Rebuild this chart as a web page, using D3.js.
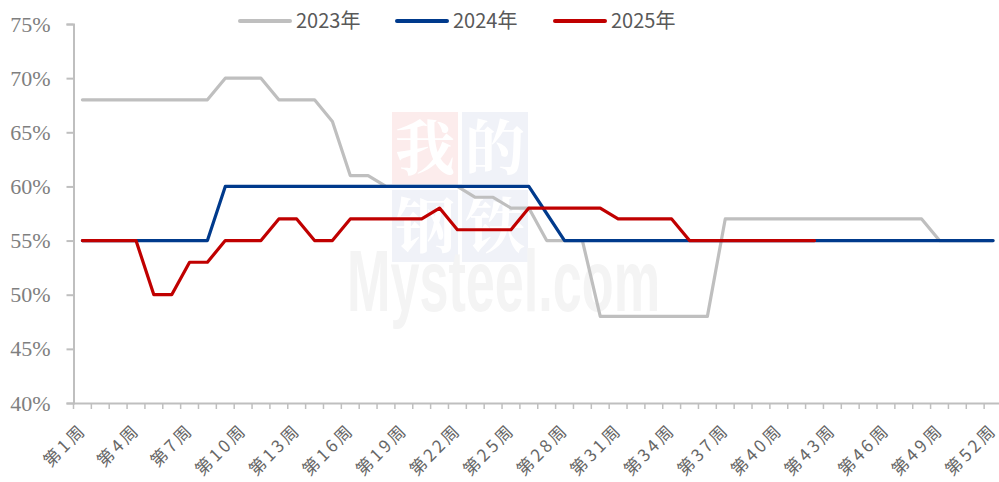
<!DOCTYPE html>
<html>
<head>
<meta charset="utf-8">
<script src="https://cdn.jsdelivr.net/npm/d3@7"></script>
<style>
    body{margin:0;background:#fff;}
    svg{display:block;}
</style>
</head>
<body>
<div id="chart"></div>
<script>
var weeks = d3.range(1, 53).map(function(w){return '第' + w + '周'});
var tick_labels = weeks.filter(function(d, i){return i % 3 == 0});
var y_ticks = [40, 45, 50, 55, 60, 65, 70, 75];
var series_names = ['2023年', '2024年', '2025年'];
var colors = ['#bfbfbf', '#003a8c', '#c00000'];

var values_2023 = [68, 68, 68, 68, 68, 68, 68, 68, 70, 70, 70, 68, 68, 68, 66, 61, 61,
    60, 60, 60, 60, 60, 59, 59, 58, 58, 55, 55, 55, 48, 48, 48, 48, 48, 48, 48,
    57, 57, 57, 57, 57, 57, 57, 57, 57, 57, 57, 57, 55, 55, 55, 55];
var values_2024 = [55, 55, 55, 55, 55, 55, 55, 55, 60, 60, 60, 60, 60, 60, 60, 60, 60,
    60, 60, 60, 60, 60, 60, 60, 60, 60, 57.5, 55, 55, 55, 55, 55, 55, 55, 55, 55,
    55, 55, 55, 55, 55, 55, 55, 55, 55, 55, 55, 55, 55, 55, 55, 55];
var values_2025 = [55, 55, 55, 55, 50, 50, 53, 53, 55, 55, 55, 57, 57, 55, 55, 57, 57,
    57, 57, 57, 58, 56, 56, 56, 56, 58, 58, 58, 58, 58, 57, 57, 57, 57, 55, 55,
    55, 55, 55, 55, 55, 55];

var series = [values_2023, values_2024, values_2025];

var width = 999, height = 482;
var margin = {top: 24, right: -3, bottom: 79, left: 73.5};

var svg = d3.select('#chart').append('svg')
    .attr('width', width)
    .attr('height', height);

var x = d3.scaleBand()
    .domain(weeks)
    .range([margin.left, width - margin.right]);

var y = d3.scaleLinear()
    .domain([40, 75])
    .range([height - margin.bottom, margin.top]);

// watermark
var wm = svg.append('g').attr('class', 'watermark');
var boxes = [
    {c: '我', x: 392, y: 112, bg: '#fcecec'},
    {c: '的', x: 462, y: 112, bg: '#f0f2f8'},
    {c: '钢', x: 392, y: 190, bg: '#f0f2f8'},
    {c: '铁', x: 462, y: 190, bg: '#f0f2f8'}
];
wm.selectAll('rect').data(boxes).enter().append('rect')
    .attr('x', function(d){return d.x})
    .attr('y', function(d){return d.y})
    .attr('width', 66)
    .attr('height', 72)
    .attr('fill', function(d){return d.bg});
wm.selectAll('text.c').data(boxes).enter().append('text')
    .attr('class', 'c')
    .attr('x', function(d){return d.x + 33})
    .attr('y', function(d){return d.y + 58})
    .attr('text-anchor', 'middle')
    .attr('font-family', '"Noto Serif CJK SC", "Noto Sans CJK SC", serif')
    .attr('font-weight', 'bold')
    .attr('font-size', 60)
    .attr('fill', '#ffffff')
    .text(function(d){return d.c});
wm.append('text')
    .attr('x', 347)
    .attr('y', 311)
    .attr('textLength', 313)
    .attr('lengthAdjust', 'spacingAndGlyphs')
    .attr('font-family', '"Liberation Sans", Arial, sans-serif')
    .attr('font-weight', 'bold')
    .attr('font-size', 88)
    .attr('fill', '#f4f4f4')
    .text('Mysteel.com');

// axes
var axis_color = '#bfbfbf';
var y_axis = svg.append('g')
    .attr('transform', 'translate(' + margin.left + ',0)')
    .call(d3.axisLeft(y).tickValues(y_ticks).tickSize(7).tickFormat(function(d){return d + '%'}));
y_axis.select('.domain').attr('stroke', axis_color).attr('stroke-width', 2);
y_axis.selectAll('.tick line').attr('stroke', axis_color).attr('stroke-width', 2);
y_axis.selectAll('.tick text')
    .attr('x', -23)
    .attr('font-family', '"Liberation Serif", "Times New Roman", serif')
    .attr('font-size', 22)
    .attr('fill', '#7f7f7f');

var x_axis = svg.append('g')
    .attr('transform', 'translate(0,' + y(40) + ')')
    .call(d3.axisBottom(x).tickValues(tick_labels).tickSize(0).tickFormat(''));
x_axis.select('.domain').attr('stroke', axis_color).attr('stroke-width', 2);

// tick marks between categories
svg.append('g').selectAll('line')
    .data(weeks)
    .enter()
        .append('line')
        .attr('x1', function(d){return x(d)})
        .attr('x2', function(d){return x(d)})
        .attr('y1', y(40))
        .attr('y2', y(40) + 6)
        .attr('stroke', axis_color)
        .attr('stroke-width', 1.5);

var letter_gap = 3;
svg.append('g').selectAll('text')
    .data(tick_labels)
    .enter()
        .append('text')
        .attr('transform', function(d){
            var cx = x(d) + x.bandwidth() / 2;
            return 'translate(' + (cx + 3 + letter_gap * 0.7) + ',' + (y(40) + 30 - letter_gap * 0.7) + ') rotate(-45)'
        })
        .attr('text-anchor', 'end')
        .attr('letter-spacing', letter_gap)
        .attr('font-family', '"Noto Sans CJK SC", sans-serif')
        .attr('font-size', 17)
        .attr('fill', '#666666')
        .text(function(d){return d});

// lines
var line = d3.line()
    .x(function(d, i){return x(weeks[i]) + x.bandwidth() / 2})
    .y(function(d){return y(d)});

svg.append('g').selectAll('path')
    .data(series)
    .enter()
        .append('path')
        .attr('d', line)
        .attr('fill', 'none')
        .attr('stroke', function(d, i){return colors[i]})
        .attr('stroke-width', 3.2)
        .attr('stroke-linejoin', 'round')
        .attr('stroke-linecap', 'round');

// legend
var legend_x = [238, 395, 553];
var legend = svg.append('g').selectAll('g')
    .data(series_names)
    .enter()
        .append('g')
        .attr('transform', function(d, i){return 'translate(' + legend_x[i] + ',21)'});
legend.append('line')
    .attr('x1', 2).attr('x2', 52)
    .attr('y1', 0).attr('y2', 0)
    .attr('stroke', function(d, i){return colors[i]})
    .attr('stroke-width', 4)
    .attr('stroke-linecap', 'round');
legend.append('text')
    .attr('x', 58)
    .attr('y', 7)
    .attr('font-family', '"Noto Sans CJK SC", sans-serif')
    .attr('font-size', 20)
    .attr('fill', '#595959')
    .text(function(d){return d});
</script>
</body>
</html>
